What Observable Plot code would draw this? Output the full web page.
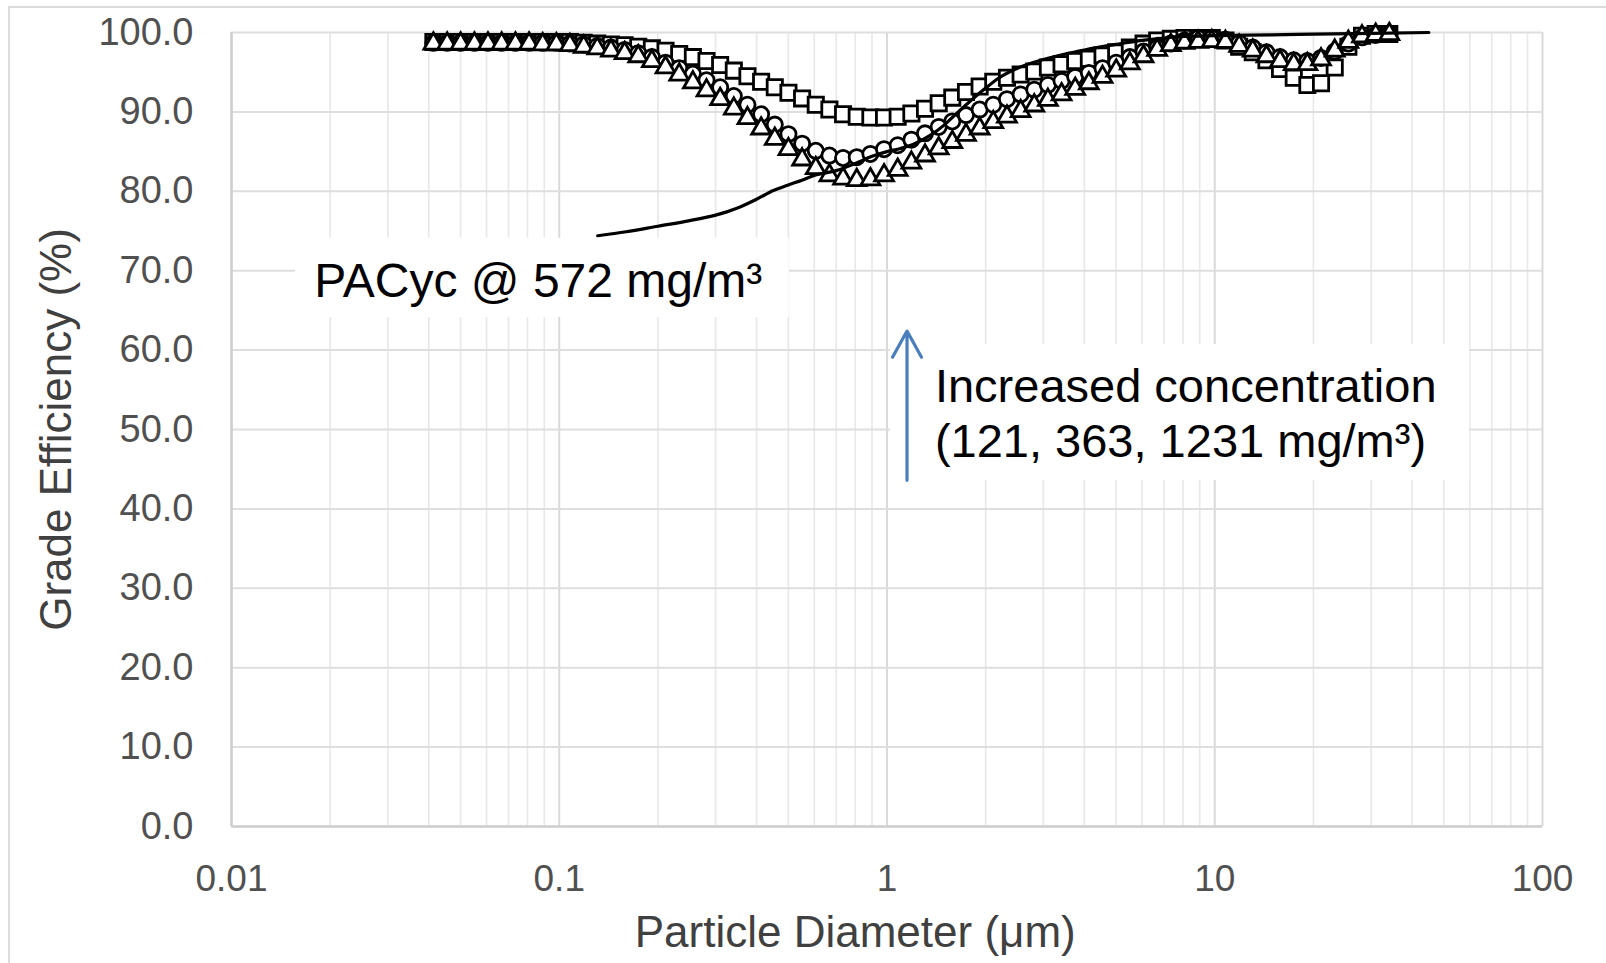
<!DOCTYPE html>
<html><head><meta charset="utf-8">
<script src="https://cdn.jsdelivr.net/npm/d3@7"></script>
<script src="https://cdn.jsdelivr.net/npm/@observablehq/plot@0.6"></script>
<style>
body{margin:0;background:#fff;font-family:"Liberation Sans",Arial,Helvetica,sans-serif;}
#wrap{position:relative;width:1606px;height:963px;overflow:hidden}
#frame{position:absolute;left:8px;top:6px;width:1700px;height:1100px;border-top:2px solid #dcdcdc;border-left:2px solid #dcdcdc;pointer-events:none}
#wrap svg{position:absolute;left:0;top:0}
</style></head><body><div id="wrap"><div id="frame"></div></div>
<script>
// Particle diameters (µm) of the measured channels
const diameters = [0.0413,0.0455,0.0500,0.0551,0.0606,0.0667,0.0735,0.0809,0.0890,0.0980,
0.1078,0.1187,0.1306,0.1438,0.1583,0.1742,0.1917,0.2110,0.2323,0.2557,
0.2814,0.3097,0.3409,0.3752,0.4130,0.4546,0.5004,0.5508,0.6063,0.6673,
0.7345,0.8085,0.8899,0.9795,1.078,1.187,1.306,1.438,1.582,1.742,
1.917,2.110,2.323,2.557,2.814,3.097,3.409,3.752,4.130,4.546,
5.004,5.508,6.063,6.673,7.345,8.085,8.899,9.795,10.78,11.87,
13.06,14.38,15.82,17.42,19.17,21.10,23.23,25.57,28.14,30.97,34.09];

// Grade efficiency (%) at 1231 mg/m3 (squares)
const eff1231 = [98.8,98.8,98.8,98.8,98.8,98.8,98.8,98.8,98.8,98.8,
98.8,98.7,98.6,98.5,98.4,98.2,98.0,97.7,97.3,96.9,
96.4,95.9,95.2,94.5,93.8,93.1,92.4,91.7,90.9,90.3,
89.7,89.4,89.3,89.3,89.4,89.8,90.4,91.1,91.8,92.5,
93.2,93.8,94.3,94.7,95.1,95.6,96.0,96.4,96.7,97.1,
97.5,98.1,98.6,99.0,99.2,99.3,99.3,99.3,99.0,98.2,
97.5,96.5,95.4,94.3,93.4,93.6,95.6,98.2,99.6,99.8,99.8];

// Grade efficiency (%) at 363 mg/m3 (circles)
const eff363 = [98.7,98.7,98.7,98.7,98.7,98.7,98.7,98.7,98.7,98.7,
98.6,98.5,98.3,98.1,97.8,97.4,96.9,96.2,95.5,94.8,
94.0,93.1,92.0,90.9,89.7,88.4,87.2,86.0,85.1,84.5,
84.2,84.3,84.7,85.3,85.8,86.5,87.3,88.1,88.8,89.6,
90.3,90.9,91.6,92.2,92.8,93.4,93.9,94.4,94.9,95.5,
96.2,96.9,97.6,98.1,98.6,99.0,99.3,99.3,99.1,98.7,
98.1,97.5,96.9,96.5,96.4,96.8,97.6,98.6,99.4,99.7,99.8];

// Grade efficiency (%) at 121 mg/m3 (triangles)
const eff121 = [98.6,98.6,98.6,98.6,98.6,98.6,98.6,98.6,98.5,98.5,
98.4,98.2,98.0,97.7,97.4,97.0,96.4,95.6,94.7,93.7,
92.7,91.6,90.4,89.2,87.9,86.6,85.3,84.0,82.9,82.0,
81.6,81.4,81.5,82.0,82.7,83.6,84.5,85.4,86.2,87.1,
87.9,88.7,89.4,90.1,90.8,91.5,92.2,92.9,93.6,94.4,
95.2,96.1,97.0,97.8,98.4,98.7,98.8,98.9,98.8,98.3,
97.7,97.0,96.4,96.0,96.0,96.6,97.7,98.8,99.5,99.7,99.8];

// PACyc @ 572 mg/m3 (solid line)
const pacycDiam = [0.131,0.16,0.2,0.25,0.3,0.35,0.4,0.45,0.5,0.55,0.6,0.7,0.8,0.9,1.0,1.1,1.2,1.35,1.5,1.65,1.8,2.0,2.2,2.5,3.0,3.5,4.0,5.0,6.0,7.0,8.0,10,15,20,30,45];
const pacycEff  = [74.4,74.9,75.6,76.3,77.0,77.9,79.0,80.1,80.8,81.4,82.0,82.6,83.5,84.4,85.0,85.4,85.9,87.0,88.4,90.0,91.4,93.0,94.3,95.5,96.6,97.3,97.8,98.5,99.0,99.3,99.5,99.6,99.7,99.8,99.9,100.0];

const xTicks = [0.01, 0.1, 1, 10, 100];
const xTickLabels = ["0.01", "0.1", "1", "10", "100"];
const xMinor = [0.02,0.03,0.04,0.05,0.06,0.07,0.08,0.09,0.2,0.3,0.4,0.5,0.6,0.7,0.8,0.9,2,3,4,5,6,7,8,9,20,30,40,50,60,70,80,90];
const yTicks = [0,10,20,30,40,50,60,70,80,90,100];
const yTickLabels = ["0.0","10.0","20.0","30.0","40.0","50.0","60.0","70.0","80.0","90.0","100.0"];

const rows = vals => diameters.map((d, i) => ({d, e: vals[i]}));
const lineRows = pacycDiam.map((d, i) => ({d, e: pacycEff[i]}));

const FONT = '"Liberation Sans", Arial, Helvetica, sans-serif';
const markerStyle = {x: "d", y: "e", fill: "white", stroke: "black", strokeWidth: 2.8};

const chart = Plot.plot({
  width: 1606, height: 963,
  marginLeft: 231, marginRight: 64, marginTop: 32, marginBottom: 137,
  x: {type: "log", domain: [0.01, 100]},
  y: {domain: [0, 100]},
  style: {fontFamily: FONT, background: "transparent", overflow: "visible"},
  marks: [
    Plot.ruleX(xMinor, {stroke: "#e8e8e8", strokeWidth: 1.6}),
    Plot.ruleX(xTicks, {stroke: "#d9d9d9", strokeWidth: 2}),
    Plot.ruleY(yTicks, {stroke: "#dedede", strokeWidth: 2}),
    Plot.ruleX([0.01], {stroke: "#cfcfcf", strokeWidth: 2.5}),
    Plot.ruleY([0], {stroke: "#cfcfcf", strokeWidth: 2.5}),
    Plot.axisY(yTicks, {tickSize: 0, tickPadding: 38, tickFormat: d => yTickLabels[yTicks.indexOf(d)], fontSize: 38, color: "#505050", label: null}),
    Plot.axisX(xTicks, {tickSize: 0, tickPadding: 38, tickFormat: d => xTickLabels[xTicks.indexOf(d)], fontSize: 37, color: "#505050", label: null}),
    // annotation boxes
    Plot.rect([{}], {x1: () => 0.0157, x2: () => 0.503, y1: () => 64.1, y2: () => 74.1, fill: "white"}),
    Plot.rect([{}], {x1: () => 1.025, x2: () => 60, y1: () => 43.6, y2: () => 60.7, fill: "white"}),
    Plot.text(["PACyc @ 572 mg/m³"], {x: () => 0.0179, y: () => 68.6, text: d => d, textAnchor: "start", fontSize: 48, fill: "black"}),
    Plot.text(["Increased concentration"], {x: () => 1.40, y: () => 55.3, text: d => d, textAnchor: "start", fontSize: 47, fill: "black"}),
    Plot.text(["(121, 363, 1231 mg/m³)"], {x: () => 1.40, y: () => 48.4, text: d => d, textAnchor: "start", fontSize: 47, fill: "black"}),
    Plot.arrow([{}], {x1: () => 1.151, x2: () => 1.151, y1: () => 43.6, y2: () => 62.4, stroke: "#4a7ebb", strokeWidth: 3.2, headLength: 14, headAngle: 58, inset: 0}),
    // data
    Plot.dot(rows(eff1231), {...markerStyle, symbol: "square", r: 8.6}),
    Plot.dot(rows(eff363), {...markerStyle, symbol: "circle", r: 7.6}),
    Plot.dot(rows(eff121), {...markerStyle, symbol: "triangle", r: 7.0}),
    Plot.line(lineRows, {x: "d", y: "e", stroke: "black", strokeWidth: 3.2, curve: "monotone-x"}),
    // axis titles
    Plot.text(["Particle Diameter (μm)"], {x: () => 0.80, frameAnchor: "bottom", textAnchor: "middle", lineAnchor: "middle", dy: 106, text: d => d, fontSize: 44, fill: "#404040"}),
    Plot.text(["Grade Efficiency (%)"], {frameAnchor: "left", textAnchor: "middle", lineAnchor: "middle", dx: -175, rotate: -90, text: d => d, fontSize: 44, fill: "#404040"})
  ]
});
document.getElementById("wrap").appendChild(chart);
</script>
</body></html>
